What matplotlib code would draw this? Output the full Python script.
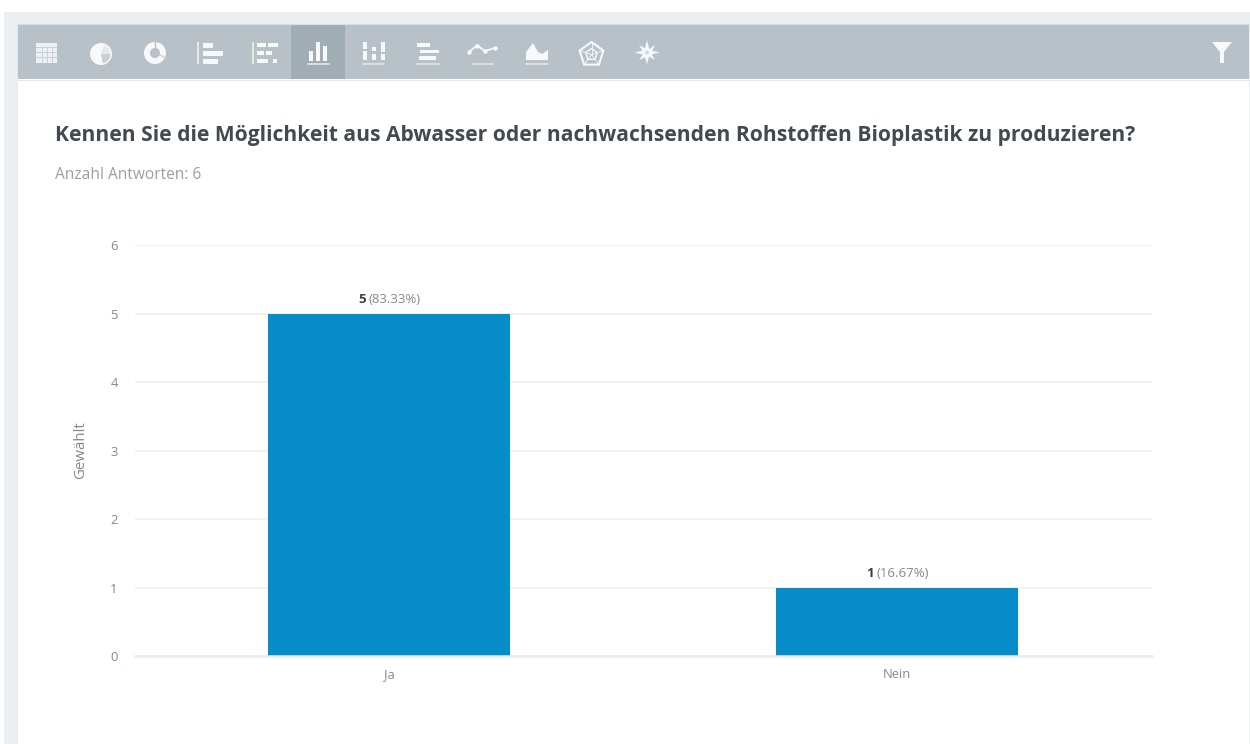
import math
import matplotlib
matplotlib.use("Agg")
import matplotlib.pyplot as plt
from matplotlib.patches import Rectangle, Circle, Wedge, Polygon

categories = ["Ja", "Nein"]
votes = [5, 1]
percent_labels = ["(83.33%)", "(16.67%)"]
y_ticks = [0, 1, 2, 3, 4, 5, 6]
title = "Kennen Sie die Möglichkeit aus Abwasser oder nachwachsenden Rohstoffen Bioplastik zu produzieren?"
subtitle = "Anzahl Antworten: 6"
y_label = "Gewählt"

W, H = 1250, 744
plt.rcParams["font.family"] = ["Open Sans", "DejaVu Sans"]
fig = plt.figure(figsize=(W / 100, H / 100), dpi=100, facecolor="white")

# page chrome in pixel coordinates
bg = fig.add_axes([0, 0, 1, 1], zorder=0)
bg.set_xlim(0, W); bg.set_ylim(H, 0); bg.axis("off")
TOOL, ACTIVE, ICON = "#b8c1c8", "#a1adb5", "#f7f9fa"
bg.add_patch(Rectangle((4, 12), W - 4, H - 12, fc="#ebeff2", ec="none"))
bg.add_patch(Rectangle((17, 24), 1232, H - 24, fc="white", ec="none"))
bg.add_patch(Rectangle((17, 24.5), 1232, 54.5, fc=TOOL, ec="none"))
bg.add_patch(Rectangle((291, 25), 54, 54, fc=ACTIVE, ec="none"))
bg.plot([17, 1249], [24, 24], color="#d9dddf", lw=0.8)
bg.plot([17, 1249], [79.5, 79.5], color="#e3e7ea", lw=0.8)
bg.plot([16.5, 16.5], [24, H], color="#e6e9eb", lw=0.7)
bg.plot([1249.5, 1249.5], [24, H], color="#e6e9eb", lw=0.7)

def rect(x, y, w, h, c=ICON):
    bg.add_patch(Rectangle((x, y), w, h, fc=c, ec="none"))

def under(x0, x1, y=64):
    bg.plot([x0, x1], [y, y], color="#dfe4e7", lw=1.3, solid_capstyle="round")

# table
rect(36, 43, 21, 20, "#eef1f3")
for gx in (41.5, 46.5, 51.5):
    bg.plot([gx, gx], [47, 63], color="#c3cbd1", lw=.6)
for gy in (47, 52, 57):
    bg.plot([36, 57], [gy, gy], color="#c3cbd1", lw=.6)
# pie
bg.add_patch(Circle((101, 54), 11, fc=ICON, ec="none"))
bg.add_patch(Wedge((101, 54), 9.5, -5, 80, fc="#c9d0d5", ec="none"))
bg.add_patch(Wedge((101, 54), 9.5, -70, -10, fc="#e4e8eb", ec="none"))
# donut
bg.add_patch(Circle((155, 53), 11, fc=ICON, ec="none"))
bg.add_patch(Circle((155, 53), 5, fc=TOOL, ec="none"))
bg.plot([155, 155], [42, 48], color="#c7b9cf", lw=1)
bg.plot([160, 165], [55, 58], color="#c9d0d5", lw=1)
# horizontal bars
rect(197, 42, 1.5, 22, "#e6ebe0")
rect(203, 43, 10, 4.5); rect(203, 51, 20, 4.5); rect(203, 59, 15, 4.5)
# stacked horizontal bars
rect(252, 42, 1.5, 22, "#e6ebe0")
rect(257, 43, 9, 4); rect(267.5, 43, 10, 4)
rect(257, 51, 7, 4); rect(266, 51, 6, 4)
rect(257, 59, 11, 4); rect(273, 59, 4, 4)
# column chart (active)
rect(309, 51, 4, 10); rect(316, 42, 4, 19); rect(323, 46, 4, 15)
under(308, 329)
# stacked columns
rect(363, 42, 4, 7); rect(363, 51, 4, 9)
rect(372, 47, 4, 4); rect(372, 54, 4, 6)
rect(381, 42, 4, 10); rect(381, 54, 4, 6)
under(363, 384)
# centred bars
rect(417, 43, 13, 3.5); rect(420, 49.5, 19, 3.5); rect(419, 56, 17, 3.5)
under(417, 439)
# line
bg.plot([469, 477, 485, 495], [52, 45.5, 51, 48], color=ICON, lw=1.3, marker="o", ms=2.2)
under(472, 493)
# area
bg.add_patch(Polygon([(526, 60), (526, 52), (533, 43), (538, 52), (542, 54), (548, 50), (548, 60)],
                     fc=ICON, ec="none"))
under(526, 548)
# radar
def poly(cx, cy, r, n=5, **kw):
    pts = [(cx + r * math.sin(2 * math.pi * i / n), cy - r * math.cos(2 * math.pi * i / n)) for i in range(n)]
    bg.add_patch(Polygon(pts, closed=True, fc="none", **kw))
    return pts
pts = poly(591.5, 54.5, 12.5, ec=ICON, lw=1.5)
poly(591.5, 54.5, 6, ec=ICON, lw=1)
for p in pts:
    bg.plot([591.5, p[0]], [54.5, p[1]], color=ICON, lw=.6)
# star
bg.add_patch(Polygon([(647, 40.5), (649.5, 50), (659.5, 52.5), (649.5, 55), (647, 64.5), (644.5, 55),
                      (634.5, 52.5), (644.5, 50)], fc=ICON, ec="none"))
bg.add_patch(Polygon([(639, 45), (648, 50), (655, 45), (651, 53), (655, 60), (648, 56),
                      (639, 60), (644, 53)], fc=ICON, ec="none"))
bg.add_patch(Circle((647, 52.5), 2, fc="#d5dade", ec="none"))
# filter
bg.add_patch(Polygon([(1212, 42), (1232, 42), (1224, 52), (1224, 63), (1220, 63), (1220, 52)],
                     fc=ICON, ec="none"))

# headings
fig.text(55 / W, 1 - 135.5 / H, title, fontsize=15.1, fontweight="bold", color="#414a50",
         ha="left", va="center")
fig.text(55 / W, 1 - 175 / H, subtitle, fontsize=11.2, color="#9a9fa3", ha="left", va="center")

# chart
ax = fig.add_axes([135 / W, 1 - 656.2 / H, 1016.5 / W, (656.2 - 245.3) / H], zorder=1)
ax.patch.set_alpha(0)
ax.bar(range(len(categories)), votes, width=0.476, color="#068dc9", zorder=3)
ax.set_xlim(-0.5, len(categories) - 0.5)
ax.set_ylim(0, 6)
ax.set_yticks(y_ticks)
ax.set_xticks(range(len(categories)), categories)
ax.grid(axis="y", color="#f1f1f1", lw=1.4, zorder=0)
ax.set_axisbelow(True)
for s in ax.spines.values():
    s.set_visible(False)
ax.tick_params(length=0, labelsize=9.4, labelcolor="#85898d")
ax.tick_params(axis="y", pad=12.5)
ax.tick_params(axis="x", pad=8.5)
ax.spines["bottom"].set_visible(True)
ax.spines["bottom"].set_color("#ececec")
ax.spines["bottom"].set_linewidth(1.8)
ax.spines["bottom"].set_zorder(4)
fig.text(81 / W, 1 - 450 / H, y_label, rotation=90, fontsize=10.8, color="#85898d",
         ha="center", va="center")

for i, (v, p) in enumerate(zip(votes, percent_labels)):
    ax.annotate(str(v), (i, v), xytext=(-31, 14), textcoords="offset pixels",
                fontsize=9.5, fontweight="bold", color="#3a3f42", ha="left", va="center")
    ax.annotate(p, (i, v), xytext=(-21, 14), textcoords="offset pixels",
                fontsize=9.5, color="#85898d", ha="left", va="center")

fig.savefig("out.png", dpi=100)
